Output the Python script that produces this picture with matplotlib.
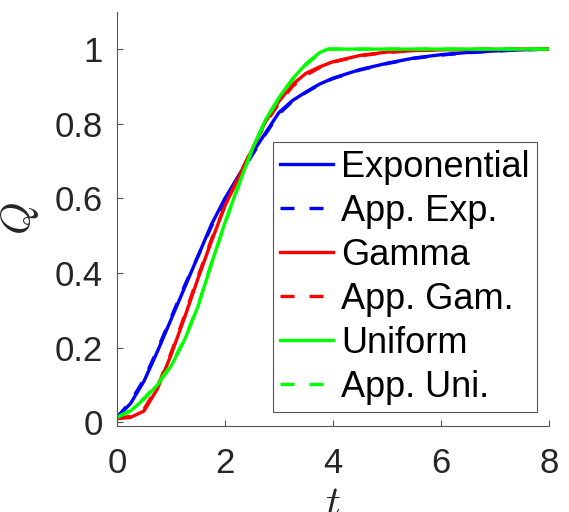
import matplotlib
matplotlib.use('Agg')
import matplotlib.pyplot as plt
from matplotlib.ticker import FuncFormatter

plt.rcParams['font.family'] = ['Liberation Sans', 'DejaVu Sans']
plt.rcParams['mathtext.fontset'] = 'cm'

# time grid shared by all curves
t = [0, 0.25, 0.5, 0.75, 1.0, 1.25, 1.5, 1.75, 2.0, 2.25, 2.5, 2.75, 3.0,
     3.25, 3.5, 3.75, 4.0, 4.5, 5.0, 5.5, 6.0, 6.5, 7.0, 7.5, 8.0]

q_exp = [0.013, 0.05, 0.11, 0.19, 0.275, 0.36, 0.445, 0.53, 0.60, 0.66,
         0.72, 0.775, 0.83, 0.862, 0.885, 0.906, 0.922, 0.945, 0.962,
         0.976, 0.985, 0.991, 0.995, 0.998, 1.0]
q_exp_app = [0.013, 0.055, 0.115, 0.195, 0.28, 0.365, 0.445, 0.525, 0.595,
             0.655, 0.715, 0.772, 0.826, 0.86, 0.884, 0.905, 0.921, 0.944,
             0.961, 0.975, 0.984, 0.99, 0.995, 0.998, 1.0]

q_gam = [0.01, 0.013, 0.03, 0.09, 0.18, 0.28, 0.385, 0.485, 0.58, 0.655,
         0.73, 0.805, 0.86, 0.905, 0.935, 0.952, 0.966, 0.983, 0.992,
         0.996, 0.998, 0.999, 0.999, 1.0, 1.0]
q_gam_app = [0.01, 0.016, 0.035, 0.095, 0.185, 0.285, 0.39, 0.49, 0.58,
             0.657, 0.732, 0.8, 0.855, 0.9, 0.93, 0.95, 0.965, 0.982, 0.991,
             0.996, 0.998, 0.999, 1.0, 1.0, 1.0]

t_uni = [0, 0.25, 0.5, 0.75, 1.0, 1.25, 1.5, 1.75, 2.0, 2.25, 2.5, 2.75,
         3.0, 3.25, 3.5, 3.75, 3.9, 4.5, 5.0, 6.0, 7.0, 8.0]
q_uni = [0.013, 0.03, 0.062, 0.10, 0.15, 0.22, 0.31, 0.425, 0.535, 0.635,
         0.73, 0.81, 0.87, 0.92, 0.96, 0.99, 1.0, 1.0, 1.0, 1.0, 1.0, 1.0]
q_uni_app = [0.013, 0.032, 0.064, 0.103, 0.153, 0.222, 0.312, 0.425,
             0.533, 0.633, 0.728, 0.808, 0.868, 0.918, 0.958, 0.988, 1.0,
             1.0, 1.0, 1.0, 1.0, 1.0]

fig = plt.figure(figsize=(5.69, 5.12), dpi=100)
ax = fig.add_axes([0.2056, 0.168, 0.759, 0.809])

lw = 2.4
dash = (4.2, 4.5)
ax.plot(t, q_exp, color=(0, 0, 1), lw=lw, label='Exponential')
ax.plot(t, q_exp_app, color=(0, 0, 1), lw=lw, ls=(0, dash), label='App. Exp.')
ax.plot(t, q_gam, color=(1, 0, 0), lw=lw, label='Gamma')
ax.plot(t, q_gam_app, color=(1, 0, 0), lw=lw, ls=(0, dash), label='App. Gam.')
ax.plot(t_uni, q_uni, color=(0, 1, 0), lw=lw, label='Uniform')
ax.plot(t_uni, q_uni_app, color=(0, 1, 0), lw=lw, ls=(0, dash), label='App. Uni.')

ax.set_xlim(0, 8)
ax.set_ylim(-0.01, 1.1)
ax.set_xticks([0, 2, 4, 6, 8])
ax.set_yticks([0, 0.2, 0.4, 0.6, 0.8, 1])
ax.yaxis.set_major_formatter(FuncFormatter(lambda v, p: '%g' % v))

for side in ['top', 'right']:
    ax.spines[side].set_visible(False)
for side in ['left', 'bottom']:
    ax.spines[side].set_color('#555555')
    ax.spines[side].set_linewidth(0.8)
ax.tick_params(direction='in', length=4, width=0.8, color='#555555',
               labelsize=25, labelcolor='#262626')
ax.tick_params(axis='x', pad=15)
ax.tick_params(axis='y', pad=10)

ax.set_xlabel(r'$t$', fontsize=30, labelpad=4, color='#262626')
ax.set_ylabel(r'$Q$', fontsize=30, labelpad=10, color='#262626')

leg = ax.legend(loc='lower right', bbox_to_anchor=(0.972, 0.034),
                borderaxespad=0, fontsize=26, fancybox=False, framealpha=1,
                edgecolor='#555555', handlelength=1.47, handletextpad=0.22,
                labelspacing=0.25, borderpad=0.2)
leg.get_frame().set_linewidth(0.8)

plt.savefig('out.png', dpi=100)
plt.close()
